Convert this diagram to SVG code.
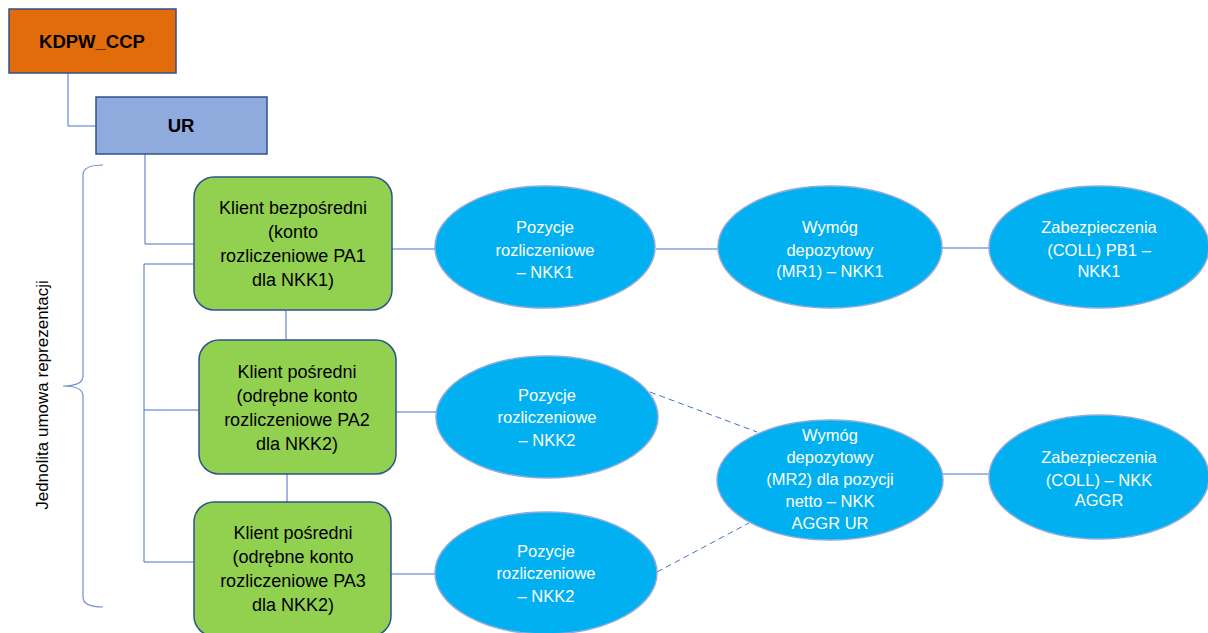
<svg xmlns="http://www.w3.org/2000/svg" width="1208" height="633" viewBox="0 0 1208 633">
<style>
.rect-o{fill:#E36C0A;stroke:#2F528F;stroke-width:1.5}
.rect-b{fill:#8FAADC;stroke:#2F528F;stroke-width:1.5}
.green{fill:#92D050;stroke:#2F528F;stroke-width:1.5}
.ell{fill:#00B0F0;stroke:#8FAADC;stroke-width:1.5}
.t-bold{font-family:"Liberation Sans",Arial,sans-serif;font-weight:bold;font-size:18.5px;fill:#000;text-anchor:middle}
.t-box{font-family:"Liberation Sans",Arial,sans-serif;font-size:18px;fill:#000;text-anchor:middle}
.t-ell{font-family:"Liberation Sans",Arial,sans-serif;font-size:16.5px;fill:#fff;text-anchor:middle}
.t-side{font-family:"Liberation Sans",Arial,sans-serif;font-size:17px;fill:#000;text-anchor:middle}
.ln{fill:none;stroke:#4472C4;stroke-width:1}
.dash{fill:none;stroke:#4472C4;stroke-width:1;stroke-dasharray:6,4}
.brace{fill:none;stroke:#6F8FD0;stroke-width:1.2}
</style>
<rect width="1208" height="633" fill="#fff"/>
<g id="connectors">
<path class="ln" d="M68,73 V126 H96"/>
<path class="ln" d="M145,154 V244 H194"/>
<path class="ln" d="M194,264 H144 V562 H194"/>
<path class="ln" d="M144,410 H199"/>
<path class="ln" d="M286,310 V340"/>
<path class="ln" d="M287,474 V502"/>
<path class="ln" d="M392,249 H435"/>
<path class="ln" d="M656,249 H718"/>
<path class="ln" d="M942,248 H989"/>
<path class="ln" d="M396,412 H436"/>
<path class="ln" d="M391,574 H435"/>
<path class="ln" d="M943,474 H989"/>
<path class="dash" d="M650,392 L757,432"/>
<path class="dash" d="M657,572 L749,523"/>
</g>
<g id="brace">
<path class="brace" d="M103,165 Q83,165 83,175 V376 Q83,386 63,386 Q83,386 83,396 V597 Q83,607 103,607"/>
<text class="t-side" transform="translate(48,395) rotate(-90)">Jednolita umowa reprezentacji</text>
</g>
<g id="kdpw">
<rect class="rect-o" x="9" y="9" width="167" height="64"/>
<text class="t-bold" x="92" y="48">KDPW_CCP</text>
</g>
<g id="ur">
<rect class="rect-b" x="96" y="97" width="171" height="57"/>
<text class="t-bold" x="181" y="132">UR</text>
</g>
<g id="klient1">
<rect class="green" x="194" y="177" width="198" height="133" rx="20"/>
<text class="t-box" x="293" y="214">Klient bezpośredni</text>
<text class="t-box" x="293" y="238">(konto</text>
<text class="t-box" x="293" y="262">rozliczeniowe PA1</text>
<text class="t-box" x="293" y="286">dla NKK1)</text>
</g>
<g id="klient2">
<rect class="green" x="199" y="340" width="197" height="134" rx="20"/>
<text class="t-box" x="297" y="378">Klient pośredni</text>
<text class="t-box" x="297" y="402">(odrębne konto</text>
<text class="t-box" x="297" y="426">rozliczeniowe PA2</text>
<text class="t-box" x="297" y="450">dla NKK2)</text>
</g>
<g id="klient3">
<rect class="green" x="194" y="502" width="197" height="134" rx="20"/>
<text class="t-box" x="293" y="539">Klient pośredni</text>
<text class="t-box" x="293" y="563">(odrębne konto</text>
<text class="t-box" x="293" y="587">rozliczeniowe PA3</text>
<text class="t-box" x="293" y="611">dla NKK2)</text>
</g>
<g id="pozycje1">
<ellipse class="ell" cx="545" cy="247" rx="110" ry="61"/>
<text class="t-ell" x="545" y="233">Pozycje</text>
<text class="t-ell" x="545" y="256">rozliczeniowe</text>
<text class="t-ell" x="545" y="278">– NKK1</text>
</g>
<g id="pozycje2">
<ellipse class="ell" cx="547" cy="417" rx="111" ry="61"/>
<text class="t-ell" x="547" y="401">Pozycje</text>
<text class="t-ell" x="547" y="423">rozliczeniowe</text>
<text class="t-ell" x="547" y="446">– NKK2</text>
</g>
<g id="pozycje3">
<ellipse class="ell" cx="546" cy="573" rx="111" ry="61"/>
<text class="t-ell" x="546" y="557">Pozycje</text>
<text class="t-ell" x="546" y="579">rozliczeniowe</text>
<text class="t-ell" x="546" y="602">– NKK2</text>
</g>
<g id="wymog1">
<ellipse class="ell" cx="830" cy="247" rx="112" ry="61"/>
<text class="t-ell" x="830" y="233">Wymóg</text>
<text class="t-ell" x="830" y="256">depozytowy</text>
<text class="t-ell" x="830" y="277">(MR1) – NKK1</text>
</g>
<g id="wymog2">
<ellipse class="ell" cx="830" cy="480" rx="113" ry="60"/>
<text class="t-ell" x="830" y="441">Wymóg</text>
<text class="t-ell" x="830" y="463">depozytowy</text>
<text class="t-ell" x="830" y="485">(MR2) dla pozycji</text>
<text class="t-ell" x="830" y="507">netto – NKK</text>
<text class="t-ell" x="830" y="529">AGGR UR</text>
</g>
<g id="zabezp1">
<ellipse class="ell" cx="1099" cy="247" rx="110" ry="61"/>
<text class="t-ell" x="1099" y="233">Zabezpieczenia</text>
<text class="t-ell" x="1099" y="256">(COLL) PB1 –</text>
<text class="t-ell" x="1099" y="277">NKK1</text>
</g>
<g id="zabezp2">
<ellipse class="ell" cx="1099" cy="477" rx="110" ry="62"/>
<text class="t-ell" x="1099" y="463">Zabezpieczenia</text>
<text class="t-ell" x="1099" y="486">(COLL) – NKK</text>
<text class="t-ell" x="1099" y="506">AGGR</text>
</g>
</svg>
